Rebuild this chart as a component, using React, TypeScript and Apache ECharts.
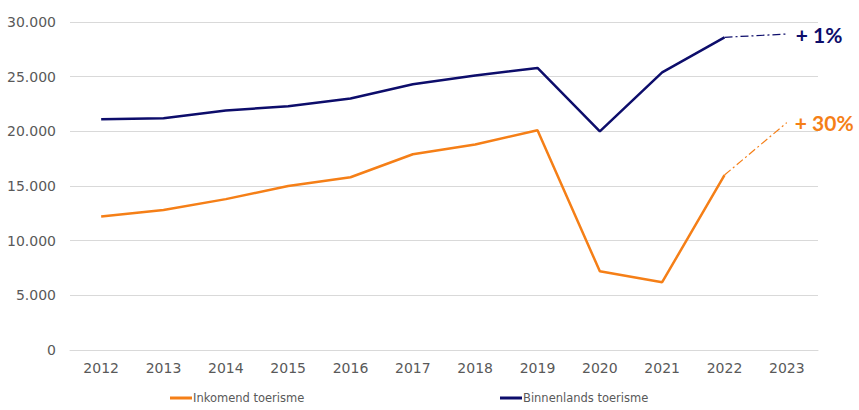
import React, { useEffect, useRef } from "react";
import * as echarts from "echarts";

const years = ["2012", "2013", "2014", "2015", "2016", "2017", "2018", "2019", "2020", "2021", "2022", "2023"];
const inkomend = [12200, 12800, 13800, 15000, 15800, 17900, 18800, 20100, 7200, 6200, 16000, null];
const inkomendForecast = [null, null, null, null, null, null, null, null, null, null, 16000, 20800];
const binnenlands = [21100, 21200, 21900, 22300, 23000, 24300, 25100, 25800, 20000, 25400, 28600, null];
const binnenlandsForecast = [null, null, null, null, null, null, null, null, null, null, 28600, 28900];
const inkomendLabel = "+ 30%";
const binnenlandsLabel = "+ 1%";

const ORANGE = "#F57F17";
const NAVY = "#0D0D6B";

export default function App() {
  const ref = useRef<HTMLDivElement>(null);
  useEffect(() => {
    document.body.style.margin = "0";
    const chart = echarts.init(ref.current!, null, { renderer: "svg" });
    const font = "'DejaVu Sans', Verdana, sans-serif";
    const labelFont = "Lato, 'DejaVu Sans', sans-serif";
    chart.setOption({
      animation: false,
      grid: { left: 70, right: 41, top: 22, bottom: 60 },
      legend: [
        {
          left: 165,
          top: 387,
          icon: "rect",
          itemWidth: 22,
          itemHeight: 3,
          itemGap: 0,
          data: ["Inkomend toerisme"],
          textStyle: { fontFamily: font, fontSize: 11.5, color: "#595959", padding: [0, 0, 0, -4] },
        },
        {
          left: 495,
          top: 387,
          icon: "rect",
          itemWidth: 22,
          itemHeight: 3,
          itemGap: 0,
          data: ["Binnenlands toerisme"],
          textStyle: { fontFamily: font, fontSize: 11.5, color: "#595959", padding: [0, 0, 0, -4] },
        },
      ],
      xAxis: {
        type: "category",
        data: years,
        boundaryGap: true,
        axisLine: { lineStyle: { color: "#D9D9D9" } },
        axisTick: { show: false },
        axisLabel: { fontFamily: font, fontSize: 14, color: "#595959", margin: 11 },
      },
      yAxis: {
        type: "value",
        min: 0,
        max: 30000,
        interval: 5000,
        axisLine: { show: false },
        axisTick: { show: false },
        splitLine: { lineStyle: { color: "#D9D9D9" } },
        axisLabel: {
          fontFamily: font,
          fontSize: 14,
          color: "#595959",
          margin: 14,
          formatter: (v: number) => (v === 0 ? "0" : v.toLocaleString("de-DE")),
        },
      },
      series: [
        {
          name: "Inkomend toerisme",
          type: "line",
          data: inkomend,
          symbol: "none",
          lineStyle: { color: ORANGE, width: 2.5 },
          itemStyle: { color: ORANGE },
        },
        {
          name: "Binnenlands toerisme",
          type: "line",
          data: binnenlands,
          symbol: "none",
          lineStyle: { color: NAVY, width: 2.5 },
          itemStyle: { color: NAVY },
        },
        {
          name: "Inkomend prognose",
          type: "line",
          data: inkomendForecast,
          symbol: "none",
          lineStyle: { color: ORANGE, width: 1.2, type: [8, 3, 2, 3] },
          itemStyle: { color: ORANGE },
          endLabel: {
            show: true,
            formatter: () => inkomendLabel,
            color: ORANGE,
            fontFamily: labelFont,
            fontWeight: "bold",
            fontSize: 21,
            distance: 8,
          },
        },
        {
          name: "Binnenlands prognose",
          type: "line",
          data: binnenlandsForecast,
          symbol: "none",
          lineStyle: { color: NAVY, width: 1.2, type: [8, 3, 2, 3] },
          itemStyle: { color: NAVY },
          endLabel: {
            show: true,
            formatter: () => binnenlandsLabel,
            color: NAVY,
            fontFamily: labelFont,
            fontWeight: "bold",
            fontSize: 21,
            distance: 9,
          },
        },
      ],
    });
    return () => chart.dispose();
  }, []);
  return <div ref={ref} style={{ width: 859, height: 410 }} />;
}
